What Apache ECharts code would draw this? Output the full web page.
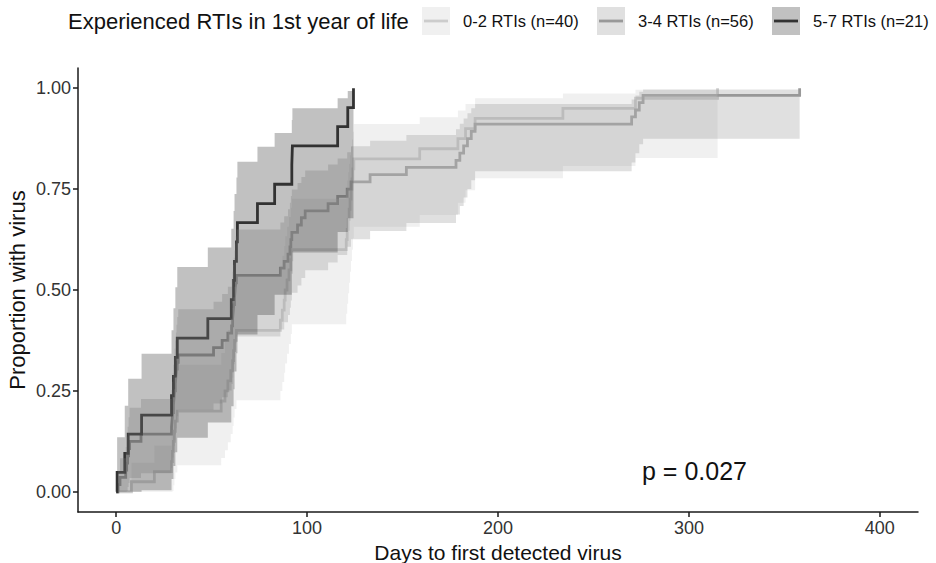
<!DOCTYPE html>
<html><head><meta charset="utf-8">
<script src="https://cdn.jsdelivr.net/npm/echarts@6/dist/echarts.min.js"></script>
<style>html,body{margin:0;padding:0;background:#fff}#c{width:936px;height:563px}</style>
</head><body><div id="c"></div>
<script>
const legendTitle = 'Experienced RTIs in 1st year of life';
const groupNames = ['0-2 RTIs (n=40)', '3-4 RTIs (n=56)', '5-7 RTIs (n=21)'];
const xTicks = [0, 100, 200, 300, 400];
const yTicks = [0, 0.25, 0.5, 0.75, 1];
const pText = 'p = 0.027';

// group 0-2 : event days, cumulative proportion, CI after each event
const g1Days = [8,20,29,29.5,30,30.5,31,32,55,57,58.5,60,61,61.5,62,63,86,87,88,88.5,89.5,90.5,91.5,92,120.5,121,121.5,122,122.5,123,123.5,124,124.5,159,179,183,188,234,272,315];
const g1Est = [0.025,0.05,0.075,0.1,0.125,0.15,0.175,0.2,0.225,0.25,0.275,0.3,0.325,0.35,0.375,0.4,0.425,0.45,0.475,0.5,0.525,0.55,0.575,0.6,0.625,0.65,0.675,0.7,0.725,0.75,0.775,0.8,0.825,0.85,0.875,0.9,0.925,0.95,0.975,1.0];
const g1Low = [0,0,0,0.002,0.016,0.032,0.048,0.066,0.084,0.103,0.123,0.143,0.163,0.184,0.205,0.227,0.25,0.272,0.295,0.318,0.342,0.366,0.391,0.415,0.441,0.466,0.492,0.518,0.545,0.572,0.6,0.628,0.657,0.686,0.716,0.747,0.777,0.807,0.827];
const g1Up = [0.072,0.115,0.153,0.188,0.222,0.254,0.285,0.315,0.344,0.373,0.401,0.429,0.456,0.482,0.508,0.534,0.56,0.585,0.609,0.633,0.657,0.681,0.704,0.726,0.749,0.771,0.792,0.813,0.834,0.854,0.873,0.892,0.911,0.928,0.945,0.961,0.975,0.987,0.996];

// group 3-4
const g2Days = [1,2,5,5.5,6,6.5,7,13,29,29.3,29.6,30,30.3,30.6,31,31.3,31.6,32,32.5,51,55.5,58.5,60.5,61,61.3,61.6,62,62.3,62.6,63,86,88,90,91,91.5,92,95,97,99,111,116,121,123,133,152,178,180,182,184,186,188,270,272,274,276,358];
const g2Est = [0.018,0.036,0.054,0.071,0.089,0.107,0.125,0.143,0.161,0.179,0.196,0.214,0.232,0.25,0.268,0.286,0.304,0.321,0.339,0.357,0.375,0.393,0.411,0.429,0.446,0.464,0.482,0.5,0.518,0.536,0.554,0.571,0.589,0.607,0.625,0.643,0.661,0.679,0.696,0.714,0.732,0.75,0.768,0.786,0.804,0.821,0.839,0.857,0.875,0.893,0.911,0.929,0.946,0.964,0.982,1.0];
const g2Low = [0,0,0,0.002,0.012,0.022,0.034,0.046,0.059,0.072,0.085,0.099,0.113,0.128,0.142,0.157,0.172,0.187,0.203,0.219,0.234,0.251,0.267,0.283,0.3,0.316,0.333,0.35,0.368,0.385,0.402,0.42,0.438,0.456,0.474,0.493,0.511,0.53,0.549,0.568,0.587,0.607,0.626,0.646,0.666,0.687,0.708,0.729,0.75,0.772,0.794,0.816,0.839,0.861,0.875];
const g2Up = [0.052,0.083,0.111,0.137,0.161,0.185,0.208,0.23,0.252,0.273,0.294,0.315,0.335,0.355,0.375,0.395,0.414,0.433,0.452,0.471,0.49,0.508,0.527,0.545,0.562,0.58,0.598,0.615,0.633,0.65,0.667,0.683,0.7,0.716,0.733,0.749,0.765,0.78,0.796,0.811,0.826,0.841,0.856,0.87,0.884,0.898,0.912,0.925,0.938,0.95,0.961,0.972,0.982,0.991,0.997];

// group 5-7
const g3Days = [0.5,4.5,6.3,13.3,29,30,31,32,48,60.3,61.5,62,63,63.5,74,83,92,92.3,116,121.3,124.3];
const g3Est = [0.048,0.095,0.143,0.19,0.238,0.286,0.333,0.381,0.429,0.476,0.524,0.571,0.619,0.667,0.714,0.762,0.81,0.857,0.905,0.952,1.0];
const g3Low = [0,0,0,0.004,0.032,0.064,0.098,0.134,0.172,0.212,0.254,0.298,0.343,0.39,0.438,0.488,0.54,0.593,0.644,0.678];
const g3Up = [0.135,0.213,0.28,0.342,0.4,0.455,0.507,0.557,0.605,0.652,0.696,0.738,0.779,0.818,0.855,0.889,0.921,0.95,0.975,0.993];

const lineColors = ['#cccccc', '#999999', '#333333'];
const fillColors = ['rgba(204,204,204,0.3)', 'rgba(153,153,153,0.3)', 'rgba(51,51,51,0.3)'];
const FONT = '"Liberation Sans", Arial, Helvetica, sans-serif';

const groups = [
  {days: g1Days, est: g1Est, low: g1Low, up: g1Up},
  {days: g2Days, est: g2Est, low: g2Low, up: g2Up},
  {days: g3Days, est: g3Est, low: g3Low, up: g3Up}
];

function lineSeries(g, i) {
  const data = [[0, 0]];
  for (let k = 0; k < g.days.length; k++) data.push([g.days[k], g.est[k]]);
  return {
    type: 'line', name: groupNames[i], step: 'end', data: data,
    showSymbol: false, symbol: 'none', z: 2, silent: true,
    lineStyle: {color: lineColors[i], width: 2.8, cap: 'butt', join: 'miter'},
    animation: false
  };
}
function bandSeries(g, i) {
  return {
    type: 'custom', name: groupNames[i] + ' CI', z: 3, silent: true, clip: true,
    data: [[0, 0]], animation: false,
    renderItem: function (params, api) {
      const pts = [];
      const n = g.low.length;
      for (let k = 0; k < n; k++) {
        pts.push(api.coord([g.days[k], g.up[k]]));
        pts.push(api.coord([g.days[k + 1], g.up[k]]));
      }
      for (let k = n - 1; k >= 0; k--) {
        pts.push(api.coord([g.days[k + 1], g.low[k]]));
        pts.push(api.coord([g.days[k], g.low[k]]));
      }
      return {type: 'polygon', shape: {points: pts}, style: {fill: fillColors[i], stroke: null}};
    }
  };
}

const series = [];
groups.forEach((g, i) => series.push(lineSeries(g, i)));
groups.forEach((g, i) => series.push(bandSeries(g, i)));

// legend drawn as graphic elements
const graphic = [{type: 'text', x: 68, y: 21, style: {text: legendTitle, fontSize: 22, fontFamily: FONT, fill: '#111', verticalAlign: 'middle', align: 'left'}}];
const keyX = [422, 597, 772];
keyX.forEach((kx, i) => {
  graphic.push({type: 'rect', shape: {x: kx, y: 7, width: 28, height: 28}, style: {fill: fillColors[i]}});
  graphic.push({type: 'line', shape: {x1: kx + 2, y1: 21, x2: kx + 26, y2: 21}, style: {stroke: lineColors[i], lineWidth: 2.8}});
  graphic.push({type: 'text', x: kx + 41, y: 21, style: {text: groupNames[i], fontSize: 16.5, fontFamily: FONT, fill: '#111', verticalAlign: 'middle', align: 'left'}});
});
graphic.push({type: 'text', x: 642, y: 471, style: {text: pText, fontSize: 25, fontFamily: FONT, fill: '#111', verticalAlign: 'middle', align: 'left'}});

const axisLineStyle = {color: '#1a1a1a', width: 1.5};
const chart = echarts.init(document.getElementById('c'), null, {renderer: 'svg'});
chart.setOption({
  animation: false,
  backgroundColor: '#ffffff',
  grid: {left: 78, right: 18, top: 68, bottom: 51, containLabel: false, outerBoundsMode: 'none'},
  xAxis: {
    type: 'value', min: -20, max: 420,
    name: 'Days to first detected virus', nameLocation: 'middle', nameGap: 27,
    nameTextStyle: {fontSize: 21, fontFamily: FONT, color: '#111'},
    axisLine: {show: true, onZero: false, lineStyle: axisLineStyle},
    axisTick: {show: true, customValues: xTicks, length: 5, lineStyle: axisLineStyle},
    axisLabel: {customValues: xTicks, fontSize: 18, fontFamily: FONT, color: '#333', margin: 7},
    splitLine: {show: false}
  },
  yAxis: {
    type: 'value', min: -0.05, max: 1.05,
    name: 'Proportion with virus', nameLocation: 'middle', nameGap: 50, nameMoveOverlap: false,
    nameTextStyle: {fontSize: 22, fontFamily: FONT, color: '#111'},
    axisLine: {show: true, onZero: false, lineStyle: axisLineStyle},
    axisTick: {show: true, customValues: yTicks, length: 5, lineStyle: axisLineStyle},
    axisLabel: {customValues: yTicks, fontSize: 18, fontFamily: FONT, color: '#333', margin: 7, formatter: v => v.toFixed(2)},
    splitLine: {show: false}
  },
  graphic: graphic,
  series: series
});
</script></body></html>
